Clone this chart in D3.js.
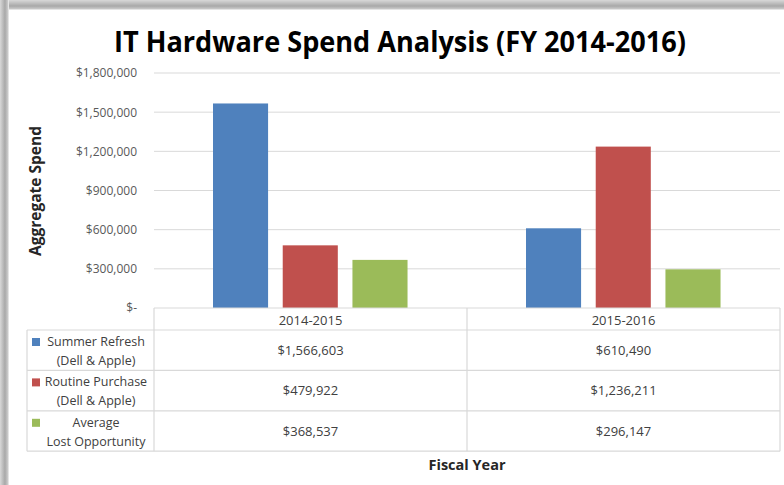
<!DOCTYPE html>
<html><head><meta charset="utf-8">
<script src="https://cdn.jsdelivr.net/npm/d3@7"></script>
<style>body{margin:0;background:#fff}svg{display:block}text{font-family:"Open Sans",sans-serif}</style>
</head><body><svg id="c" width="784" height="485"></svg>
<script>
const categories = ["2014-2015", "2015-2016"];
const seriesNames = [["Summer Refresh", "(Dell & Apple)"], ["Routine Purchase", "(Dell & Apple)"], ["Average", "Lost Opportunity"]];
const seriesKeys = ["summer", "routine", "lost"];
const summerRefresh = [1566603, 610490];
const routinePurchase = [479922, 1236211];
const lostOpportunity = [368537, 296147];
const colors = ["#4F81BD", "#C0504D", "#9BBB59"];
const yTicks = [0, 300000, 600000, 900000, 1200000, 1500000, 1800000];

const values = [summerRefresh, routinePurchase, lostOpportunity];
const svg = d3.select("#c");
const defs = svg.append("defs");
const gT = defs.append("linearGradient").attr("id","gT").attr("x1",0).attr("y1",0).attr("x2",0).attr("y2",1);
gT.append("stop").attr("offset","0").attr("stop-color","#d8d8d8");
gT.append("stop").attr("offset","0.6").attr("stop-color","#a8a8a8");
gT.append("stop").attr("offset","0.85").attr("stop-color","#c4c4c4");
gT.append("stop").attr("offset","1").attr("stop-color","#f4f4f4");
const gL = defs.append("linearGradient").attr("id","gL").attr("x1",0).attr("y1",0).attr("x2",1).attr("y2",0);
gL.append("stop").attr("offset","0").attr("stop-color","#d8d8d8");
gL.append("stop").attr("offset","0.55").attr("stop-color","#a8a8a8");
gL.append("stop").attr("offset","0.85").attr("stop-color","#c8c8c8");
gL.append("stop").attr("offset","1").attr("stop-color","#f4f4f4");
svg.append("rect").attr("x",0).attr("y",0).attr("width",784).attr("height",485).attr("fill","#fff");
svg.append("rect").attr("x",0).attr("y",0).attr("width",784).attr("height",10).attr("fill","url(#gT)");
svg.append("rect").attr("x",0).attr("y",0).attr("width",9).attr("height",485).attr("fill","url(#gL)");

const plotLeft = 154, plotRight = 780, plotTop = 73, plotBase = 308;
const x0 = d3.scaleBand().domain(categories).range([plotLeft, plotRight]).paddingInner(0).paddingOuter(0);
const bw = x0.bandwidth();
const x1 = d3.scaleBand().domain(seriesKeys).range([bw*0.1885, bw*0.81]).paddingInner(0.21).paddingOuter(0);
const y = d3.scaleLinear().domain([0, 1800000]).range([plotBase, plotTop]);

// gridlines
svg.append("g").selectAll("line").data(yTicks.slice(1)).join("line")
  .attr("x1", plotLeft).attr("x2", plotRight).attr("y1", d => y(d)).attr("y2", d => y(d))
  .attr("stroke", "#D9D9D9").attr("stroke-width", 1);

// y axis labels
const fmt = d => d === 0 ? "$-" : "$" + d3.format(",")(d);
const yAxis = d3.axisLeft(y).tickValues(yTicks).tickFormat(fmt).tickSize(0).tickPadding(17);
const ga = svg.append("g").attr("transform", `translate(${plotLeft},0)`).call(yAxis);
ga.select(".domain").remove();
ga.selectAll("text").attr("font-size", 12).attr("fill", "#595959").style("font-family", "'Open Sans',sans-serif");

// bars
categories.forEach((c, ci) => {
  seriesKeys.forEach((k, si) => {
    const v = values[si][ci];
    svg.append("rect").attr("x", x0(c) + x1(k)).attr("y", y(v))
      .attr("width", x1.bandwidth()).attr("height", y(0) - y(v))
      .attr("fill", colors[si]);
  });
});

// data table
const rowTop = 330, rowH = 40.4, tblLeft = 27;
const rows = seriesKeys.map((k, i) => rowTop + i * rowH);
const tbl = svg.append("g").attr("stroke", "#D9D9D9").attr("stroke-width", 1.2);
tbl.append("line").attr("x1", plotLeft).attr("x2", plotRight).attr("y1", plotBase).attr("y2", plotBase);
[0,1,2,3].forEach(i => tbl.append("line").attr("x1", tblLeft).attr("x2", plotRight).attr("y1", rowTop + i*rowH).attr("y2", rowTop + i*rowH));
tbl.append("line").attr("x1", tblLeft).attr("x2", tblLeft).attr("y1", rowTop).attr("y2", rowTop + 3*rowH);
[plotLeft, plotLeft + bw, plotRight].forEach(xv => tbl.append("line").attr("x1", xv).attr("x2", xv).attr("y1", plotBase).attr("y2", rowTop + 3*rowH));

// header
categories.forEach(c => {
  svg.append("text").attr("x", x0(c) + bw/2).attr("y", 324.5).attr("text-anchor", "middle")
    .attr("font-size", 13).attr("fill", "#404040").text(c);
});
// rows
seriesKeys.forEach((k, si) => {
  const ry = rows[si];
  svg.append("rect").attr("x", 32).attr("y", ry + 8).attr("width", 8).attr("height", 8).attr("fill", colors[si]);
  seriesNames[si].forEach((line, li) => {
    svg.append("text").attr("x", 96).attr("y", ry + 16 + li*19).attr("text-anchor", "middle")
      .attr("font-size", 12.5).attr("fill", "#404040").text(line);
  });
  categories.forEach((c, ci) => {
    svg.append("text").attr("x", x0(c) + bw/2).attr("y", ry + 25).attr("text-anchor", "middle")
      .attr("font-size", 13).attr("fill", "#404040").text("$" + d3.format(",")(values[si][ci]));
  });
});

// titles
svg.append("text").attr("x", 400).attr("y", 52).attr("text-anchor", "middle")
  .attr("font-size", 28).attr("font-weight", "bold").attr("fill", "#000")
  .attr("textLength", 572).attr("lengthAdjust", "spacingAndGlyphs")
  .text("IT Hardware Spend Analysis (FY 2014-2016)");
svg.append("text").attr("transform", "translate(41,191) rotate(-90)").attr("text-anchor", "middle")
  .attr("font-size", 15.5).attr("font-weight", "bold").attr("fill", "#262626").text("Aggregate Spend");
svg.append("text").attr("x", 467).attr("y", 470).attr("text-anchor", "middle")
  .attr("font-size", 14.5).attr("font-weight", "bold").attr("fill", "#262626").text("Fiscal Year");
</script></body></html>
